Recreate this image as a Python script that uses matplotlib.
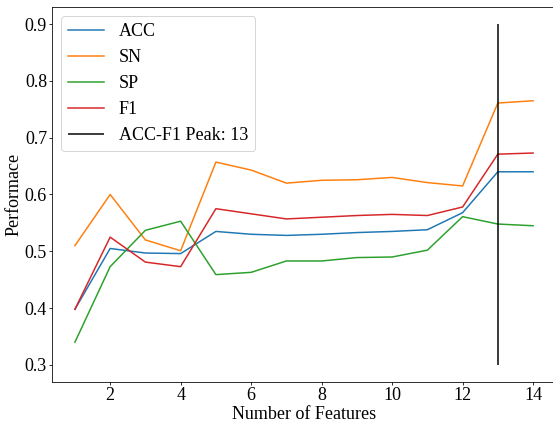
import matplotlib
matplotlib.use("Agg")
import matplotlib.pyplot as plt

features = list(range(1, 15))
acc = [0.398, 0.505, 0.497, 0.496, 0.535, 0.530, 0.528, 0.530, 0.533, 0.535, 0.538, 0.568, 0.640, 0.640]
sn = [0.510, 0.600, 0.520, 0.501, 0.657, 0.643, 0.620, 0.625, 0.626, 0.630, 0.621, 0.615, 0.761, 0.765]
sp = [0.340, 0.473, 0.537, 0.553, 0.459, 0.463, 0.483, 0.483, 0.489, 0.490, 0.502, 0.561, 0.548, 0.545]
f1 = [0.398, 0.525, 0.481, 0.473, 0.575, 0.566, 0.557, 0.560, 0.563, 0.565, 0.563, 0.578, 0.671, 0.673]
peak = 13
peak_range = [0.3, 0.9]

plt.rcParams['font.family'] = ['Liberation Serif', 'DejaVu Serif']
dpi = 72

fig = plt.figure(figsize=(553/dpi, 423/dpi), dpi=dpi)
ax = fig.add_axes([52/553, (423-382)/423, (556-52)/553, (382-7)/423])
ax.plot(features, acc, label='ACC', color='#1f77b4')
ax.plot(features, sn, label='SN', color='#ff7f0e')
ax.plot(features, sp, label='SP', color='#2ca02c')
ax.plot(features, f1, label='F1', color='#d62728')
ax.vlines(peak, peak_range[0], peak_range[1], color='black', label=f'ACC-F1 Peak: {peak}')
ax.set_xlabel('Number of Features', fontsize=18, labelpad=2)
ax.set_ylabel('Performace', fontsize=18, labelpad=2)
ax.tick_params(labelsize=18, length=3, pad=2)
ax.legend(loc='upper left', fontsize=18)
fig.savefig('out.png', dpi=dpi)
